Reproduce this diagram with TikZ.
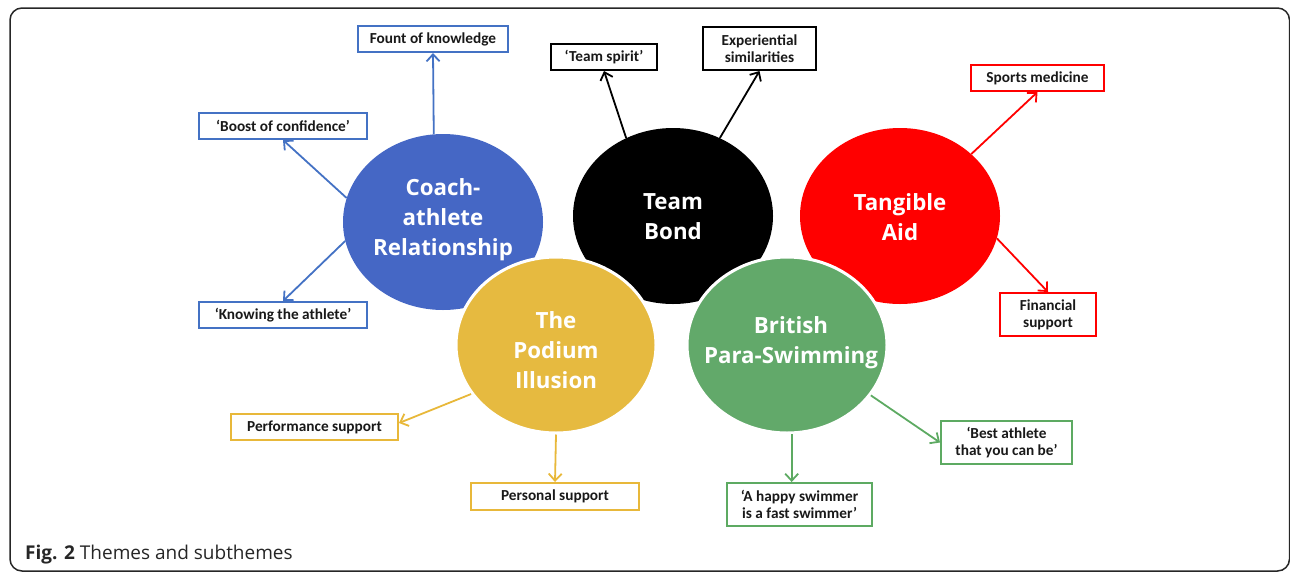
\documentclass[tikz,border=0pt]{standalone}
\usepackage{fontspec}
\setmainfont{Carlito}
\newfontfamily\circfont{Open Sans}
\newfontfamily\capfont{Open Sans}
\usetikzlibrary{shapes.geometric,arrows.meta}
\definecolor{cblue}{HTML}{4567C5}
\definecolor{cyellow}{HTML}{E6BA40}
\definecolor{cgreen}{HTML}{62A96A}
\definecolor{cred}{HTML}{FF0000}
\definecolor{bblue}{HTML}{4472C4}
\definecolor{byellow}{HTML}{E8B83A}
\definecolor{bgreen}{HTML}{5DAA62}
\begin{document}
\begin{tikzpicture}[x=1pt,y=-1pt,
  theme/.style={ellipse, minimum width=200pt, minimum height=176pt, inner sep=0pt},
  themetext/.style={inner sep=0pt, text=white,
    font=\circfont\bfseries\fontsize{22.3}{30}\selectfont, align=center},
  sub/.style={draw, line width=2pt, inner sep=0pt, fill=white, text=black!90,
    font=\bfseries\fontsize{15.3}{17}\selectfont, align=center},
  arr/.style={line width=1.8pt, -{Straight Barb[length=7pt,width=13pt]}}]
\useasboundingbox (0,0) rectangle (1290,574);
\draw[rounded corners=12pt, line width=1.5pt, black!85] (10,8) rectangle (1289.5,571);

% themes
\node[theme, fill=cblue] (coach) at (443,222) {};
\node[themetext] (coachT) at (443,219.5) {Coach-\\athlete\\Relationship};
\node[theme, fill=black] (team) at (673,216) {};
\node[themetext] (teamT) at (673,217) {Team\\Bond};
\node[theme, fill=cred] (tang) at (900,216) {};
\node[themetext] (tangT) at (900,217) {Tangible\\Aid};
\node[theme, fill=cyellow, draw=white, line width=3pt] (pod) at (556,345) {};
\node[themetext] (podT) at (556,350) {The\\Podium\\Illusion};
\node[theme, fill=cgreen, draw=white, line width=3pt] (brit) at (787,345) {};
\node[themetext] (britT) at (791,343) {British\\Para-Swimming};

% subthemes
\node[sub, draw=bblue, minimum width=150pt, minimum height=26pt] (fount) at (433,39) {Fount of knowledge};
\node[sub, draw=bblue, minimum width=168pt, minimum height=26pt] (boost) at (283,126) {‘Boost of confidence’};
\node[sub, draw=bblue, minimum width=168pt, minimum height=26pt] (know) at (283,315) {‘Knowing the athlete’};
\node[sub, draw=black, minimum width=106pt, minimum height=26pt] (spirit) at (604,57) {‘Team spirit’};
\node[sub, draw=black, minimum width=113pt, minimum height=43pt] (exp) at (759.5,48.5) {Experiential\\similarities};
\node[sub, draw=cred, minimum width=133pt, minimum height=26pt] (sports) at (1037.5,78) {Sports medicine};
\node[sub, draw=cred, minimum width=96pt, minimum height=43pt] (fin) at (1048,314.5) {Financial\\support};
\node[sub, draw=byellow, minimum width=167pt, minimum height=26pt] (perf) at (314.5,427) {Performance support};
\node[sub, draw=byellow, minimum width=168pt, minimum height=27pt] (pers) at (555,496.5) {Personal support};
\node[sub, draw=bgreen, minimum width=145pt, minimum height=43pt] (happy) at (799.5,504.5) {‘A happy swimmer\\is a fast swimmer’};
\node[sub, draw=bgreen, minimum width=131pt, minimum height=43pt] (best) at (1006.5,442.5) {‘Best athlete\\that you can be’};

% connectors
\draw[arr, bblue] (coach.96) -- (fount.south);
\draw[arr, bblue] (coach.166) -- (boost.south);
\draw[arr, bblue] (coach.191) -- (know.north);
\draw[arr, black] (team.121) -- (spirit.south);
\draw[arr, black] (team.59) -- (exp.south);
\draw[arr, cred] (tang.41) -- (sports.south);
\draw[arr, cred] (tang.-13) -- (fin.north);
\draw[arr, byellow] (pod.210) -- ([yshift=4pt]perf.east);
\draw[arr, byellow] (pod.south) -- (pers.north);
\draw[arr, bgreen] (brit.-87) -- (brit.-87 |- happy.north);
\draw[arr, bgreen] (brit.-31) -- (best.west);

% caption
\node[anchor=base west, inner sep=0pt, text=black!85, font=\capfont\fontsize{19}{22}\selectfont] (cap) at (25,559) {\textbf{Fig. 2} Themes and subthemes};
\end{tikzpicture}
\end{document}
